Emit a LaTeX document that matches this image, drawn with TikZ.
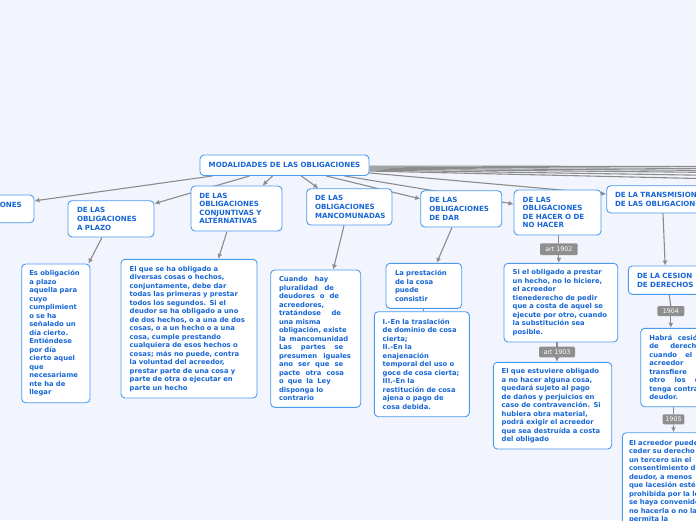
\documentclass[tikz,border=0pt]{standalone}
\usepackage{fontspec}
\setmainfont{DejaVu Sans}
\usetikzlibrary{arrows.meta}
\definecolor{bgc}{HTML}{F2F5FE}
\definecolor{bdr}{HTML}{4A9AF0}
\definecolor{txt}{HTML}{1766D6}
\definecolor{lnk}{HTML}{8C8C8C}
\definecolor{lab}{HTML}{8F8F8F}
\pgfdeclarelayer{bgl}
\pgfdeclarelayer{edges}
\pgfsetlayers{bgl,edges,main}
\newcommand\tf{\bfseries\fontsize{7.1}{8.6}\selectfont}
\newcommand\nf{\bfseries\fontsize{6.8}{8.5}\selectfont}
\newcommand\lf{\fontsize{6.3}{7}\selectfont}
\newcommand\J[2]{\makebox[#1pt][s]{\spaceskip=0.32em plus 3em\xspaceskip=0pt\relax #2}}
\tikzset{
 tbox/.style={draw=bdr, line width=0.9pt, fill=white, rounded corners=4pt, text=txt, font=\tf, inner ysep=0pt, align=left},
 nbox/.style={tbox, font=\nf},
 artlab/.style={fill=lab, text=white, font=\lf, inner sep=0pt, rounded corners=1.2pt},
 conn/.style={draw=lnk, line width=1.1pt},
 arr/.style={conn, -{Latex[length=5pt,width=5pt]}},
}
\begin{document}
\begin{tikzpicture}[x=1pt,y=-1pt]
\useasboundingbox (0,0) rectangle (696,520);
\begin{pgfonlayer}{bgl}
\fill[bgc] (0,0) rectangle (696,520);
\end{pgfonlayer}

% title boxes
\node[tbox, align=center, text width=153pt, inner xsep=8pt, minimum height=20.5pt] (root) at (284.5,165.25) {MODALIDADES DE LAS OBLIGACIONES};
\node[tbox, text width=94pt, inner xsep=8.5pt, minimum height=27.7pt] (cond) at (-21.5,208.85) {\mbox{DE LAS OBLIGACIONES}\\\mbox{CONDICIONALES}};
\node[tbox, text width=68pt, inner xsep=9pt, minimum height=36.3pt] (plazo) at (111,218.85) {\mbox{DE LAS}\\\mbox{OBLIGACIONES}\\\mbox{A PLAZO}};
\node[tbox, text width=74.4pt, inner xsep=8.3pt, minimum height=45pt] (conj) at (236.5,208.5) {\mbox{DE LAS}\\\mbox{OBLIGACIONES}\\\mbox{CONJUNTIVAS Y}\\\mbox{ALTERNATIVAS}};
\node[tbox, text width=68.7pt, inner xsep=8.3pt, minimum height=36.3pt] (manc) at (349.35,206.85) {\mbox{DE LAS}\\\mbox{OBLIGACIONES}\\\mbox{MANCOMUNADAS}};
\node[tbox, text width=63.8pt, inner xsep=8.6pt, minimum height=36.3pt] (dar) at (461.2,208.85) {\mbox{DE LAS}\\\mbox{OBLIGACIONES}\\\mbox{DE DAR}};
\node[tbox, text width=69.6pt, inner xsep=8.7pt, minimum height=45pt] (hacer) at (557.5,212.5) {\mbox{DE LAS}\\\mbox{OBLIGACIONES}\\\mbox{DE HACER O DE}\\\mbox{NO HACER}};
\node[tbox, text width=88.7pt, inner xsep=8.3pt, minimum height=27.3pt] (trans) at (659.35,199.35) {\mbox{DE LA TRANSMISION}\\\mbox{DE LAS OBLIGACIONES}};
\node[tbox, text width=56.3pt, inner xsep=8.7pt, minimum height=28.3pt] (cesion) at (665.15,280.15) {\mbox{DE LA CESION}\\\mbox{DE DERECHOS}};

% notes
\node[nbox, text width=53.1pt, inner xsep=7.6pt, minimum height=138.7pt] (pnote) at (55.85,333.35) {\mbox{Es obligación}\\\mbox{a plazo}\\\mbox{aquella para}\\\mbox{cuyo}\\\mbox{cumplimient}\\\mbox{o se ha}\\\mbox{señalado un}\\\mbox{día cierto.}\\\mbox{Entiéndese}\\\mbox{por día}\\\mbox{cierto aquel}\\\mbox{que}\\\mbox{necesariame}\\\mbox{nte ha de}\\\mbox{llegar}};
\node[nbox, text width=118.6pt, inner xsep=8.7pt, minimum height=138.7pt] (cnote) at (189,328.65) {\mbox{El que se ha obligado a}\\\mbox{diversas cosas o hechos,}\\\mbox{conjuntamente, debe dar}\\\mbox{todas las primeras y prestar}\\\mbox{todos los segundos. Si el}\\\mbox{deudor se ha obligado a uno}\\\mbox{de dos hechos, o a una de dos}\\\mbox{cosas, o a un hecho o a una}\\\mbox{cosa, cumple prestando}\\\mbox{cualquiera de esos hechos o}\\\mbox{cosas; más no puede, contra}\\\mbox{la voluntad del acreedor,}\\\mbox{prestar parte de una cosa y}\\\mbox{parte de otra o ejecutar en}\\\mbox{parte un hecho}};
\node[nbox, text width=73.4pt, inner xsep=8.3pt, minimum height=137.3pt] (mnote) at (315.7,338.65) {\J{49.3}{Cuando hay}\\\J{55}{pluralidad de}\\\J{60}{deudores o de}\\\mbox{acreedores,}\\\J{62}{tratándose de}\\\mbox{una misma}\\\mbox{obligación, existe}\\\J{69.3}{la mancomunidad}\\\J{64.3}{Las partes se}\\\J{72}{presumen iguales}\\\J{64.3}{ano ser que se}\\\J{65}{pacte otra cosa}\\\J{51.7}{o que la Ley}\\\mbox{disponga lo}\\\mbox{contrario}};
\node[nbox, text width=57.7pt, inner xsep=9pt, minimum height=45pt] (dnote1) at (423.85,285.8) {\mbox{La prestación}\\\mbox{de la cosa}\\\mbox{puede}\\\mbox{consistir}};
\node[nbox, text width=78.2pt, inner xsep=8.4pt, minimum height=105pt] (dnote2) at (421.8,364.2) {\mbox{I.-En la traslación}\\\mbox{de dominio de cosa}\\\mbox{cierta;}\\\mbox{II.-En la}\\\mbox{enajenación}\\\mbox{temporal del uso o}\\\mbox{goce de cosa cierta;}\\\mbox{III.-En la}\\\mbox{restitución de cosa}\\\mbox{ajena o pago de}\\\mbox{cosa debida.}};
\node[nbox, text width=96.3pt, inner xsep=8.7pt, minimum height=78.7pt] (hnote1) at (560.85,302.65) {\mbox{Si el obligado a prestar}\\\mbox{un hecho, no lo hiciere,}\\\mbox{el acreedor}\\\mbox{tienederecho de pedir}\\\mbox{que a costa de aquel se}\\\mbox{ejecute por otro, cuando}\\\mbox{la substitución sea}\\\mbox{posible.}};
\node[nbox, text width=101.6pt, inner xsep=8.4pt, minimum height=86.7pt] (hnote2) at (552.5,405.65) {\mbox{El que estuviere obligado}\\\mbox{a no hacer alguna cosa,}\\\mbox{quedará sujeto al pago}\\\mbox{de daños y perjuicios en}\\\mbox{caso de contravención. Si}\\\mbox{hubiera obra material,}\\\mbox{podrá exigir el acreedor}\\\mbox{que sea destruída a costa}\\\mbox{del obligado}};
\node[nbox, text width=66.1pt, inner xsep=8.6pt, minimum height=78.4pt] (habra) at (682.35,367.5) {\J{53}{Habrá cesión}\\\J{56}{de derechos}\\\J{43}{cuando el}\\\mbox{acreedor}\\\J{60}{transfiere a}\\\J{60}{otro los que}\\\J{60.5}{tenga contra su}\\\mbox{deudor.}};
\node[nbox, text width=99.3pt, inner xsep=6.7pt, minimum height=113.5pt] (acre) at (678.65,489.45) {\mbox{El acreedor puede}\\\mbox{ceder su derecho a}\\\mbox{un tercero sin el}\\\mbox{consentimiento del}\\\mbox{deudor, a menos}\\\mbox{que lacesión esté}\\\mbox{prohibida por la ley,}\\\mbox{se haya convenido en}\\\mbox{no hacerla o no la}\\\mbox{permita la}\\\mbox{naturaleza del}\\\mbox{derecho.}};

% article labels
\node[artlab, minimum width=37.7pt, minimum height=11.7pt] (a1902) at (558.85,249.15) {art 1902};
\node[artlab, minimum width=36pt, minimum height=10.6pt] (a1903) at (557,352) {art 1903};
\node[artlab, minimum width=27pt, minimum height=10pt] (c1904) at (670.8,311) {1904};
\node[artlab, minimum width=21.6pt, minimum height=10pt] (c1905) at (673.5,419.3) {1905};

% off-canvas ends of the bundle
\coordinate (o1) at (720,166.5);
\coordinate (o2) at (720,168.5);
\coordinate (o3) at (720,170.5);
\coordinate (o4) at (720,172.5);
\coordinate (o5) at (720,175.5);
\coordinate (o6) at (720,179);

\begin{pgfonlayer}{edges}
\draw[arr] ([xshift=13pt]root.south west) -- ([yshift=8pt]cond.east);
\draw[arr] ([xshift=50pt]root.south west) -- ([yshift=-3.3pt]plazo.north east);
\draw[arr] ([xshift=73pt]root.south west) -- ([xshift=26pt]conj.north);
\draw[arr] ([xshift=101.7pt]root.south west) -- ([xshift=-31pt]manc.north);
\draw[arr] ([xshift=126.7pt]root.south west) -- ([yshift=10pt]dar.west);
\draw[arr] ([xshift=145pt]root.south west) -- ([yshift=8.5pt]hacer.west);
\draw[arr] ([yshift=3pt]root.south east) -- ([yshift=5.35pt]trans.west);
\draw[conn] ([yshift=-0.8pt]root.east) -- (o1);
\draw[conn] ([yshift=-1.8pt]root.east) -- (o2);
\draw[conn] ([yshift=-2.8pt]root.east) -- (o3);
\draw[conn] ([yshift=-3.8pt]root.east) -- (o4);
\draw[conn] ([yshift=-4.8pt]root.east) -- (o5);
\draw[conn] ([yshift=-5.8pt]root.east) -- (o6);

\draw[arr] ([xshift=-9pt]plazo.south) -- ([xshift=-2pt]pnote.north east);
\draw[arr] ([xshift=-9.5pt]conj.south) -- ([xshift=29.3pt]cnote.north);
\draw[arr] ([xshift=-5.35pt]manc.south) -- ([xshift=17.6pt]mnote.north);
\draw[arr] ([xshift=-9.2pt]dar.south) -- ([xshift=12.85pt]dnote1.north);
\draw[conn] (dnote1.south) -- (dnote1.south |- dnote2.north);

\draw[conn] (a1902.north |- hacer.south) -- (a1902.north);
\draw[arr] (a1902.south) -- (a1902.south |- hnote1.north);
\draw[conn] (a1903.north |- hnote1.south) -- (a1903.north);
\draw[arr] (a1903.south) -- (a1903.south |- hnote2.north);

\draw[arr] ([xshift=3.65pt]trans.south) -- (cesion.north);
\draw[conn] ([xshift=4pt]cesion.south) -- (c1904.north);
\draw[arr] (c1904.south) -- (c1904.south |- habra.north);
\draw[conn] (c1905.north |- habra.south) -- (c1905.north);
\draw[arr] (c1905.south) -- (c1905.south |- acre.north);
\end{pgfonlayer}
\end{tikzpicture}
\end{document}
